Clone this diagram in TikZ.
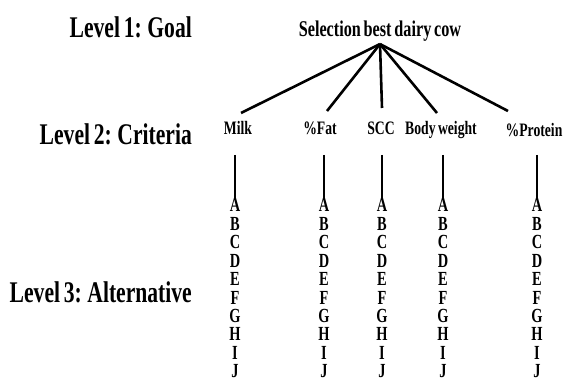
\documentclass[tikz,border=0pt]{standalone}
\usepackage{fontspec}
\newfontfamily\cf{Liberation Serif}[FakeStretch=0.72,WordSpace=0.7]
\begin{document}
\begin{tikzpicture}[x=1pt,y=-1pt,
  level/.style={font=\cf\bfseries\fontsize{30}{30}\selectfont,anchor=base east,inner sep=0pt},
  goalbox/.style={font=\cf\bfseries\fontsize{22.5}{22.5}\selectfont,inner sep=2pt},
  crit/.style={font=\cf\bfseries\fontsize{19}{19}\selectfont,anchor=base,inner sep=0pt,text height=13pt,text depth=4pt,outer sep=0pt},
  alt/.style={font=\cf\bfseries\fontsize{20}{20}\selectfont,anchor=base,inner sep=0pt},
  link/.style={line width=2.6pt},
  vlink/.style={line width=2pt}]
\useasboundingbox (0,0) rectangle (565,382);
\node[level] (l1) at (192,38) {Level 1: Goal};
\node[level] (l2) at (192,145) {Level 2: Criteria};
\node[level] (l3) at (192,302) {Level 3: Alternative};
\node[goalbox,anchor=base] (goal) at (380,37) {Selection best dairy cow};
\node[crit] (milk) at (238,135) {Milk};
\node[crit] (fat) at (320,135) {\%Fat};
\node[crit] (scc) at (381,135) {SCC};
\node[crit] (bw) at (441,135) {Body weight};
\node[crit] (prot) at (534,137) {\%Protein};
\draw[link] (goal.south) -- ([xshift=3pt,yshift=9pt]milk.north);
\draw[link] (goal.south) -- ([xshift=7pt,yshift=11pt]fat.north);
\draw[link] (goal.south) -- ([xshift=1pt,yshift=14pt]scc.north);
\draw[link] (goal.south) -- ([xshift=-4pt,yshift=9pt]bw.north);
\draw[link] (goal.south) -- ([xshift=-26pt,yshift=13pt]prot.north);
\foreach \c/\x in {m/235,f/324,s/382,b/443,p/537}{
  \coordinate (\c top) at (\x,155);
  \foreach \l [count=\i from 0] in {A,B,C,D,E,F,G,H,I,J}{
    \node[alt] (\c-\l) at (\x,212+18.4*\i) {\l};
  }
  \draw[vlink] (\c top) -- ([yshift=-1pt]\c-A.north);
}
\end{tikzpicture}
\end{document}
